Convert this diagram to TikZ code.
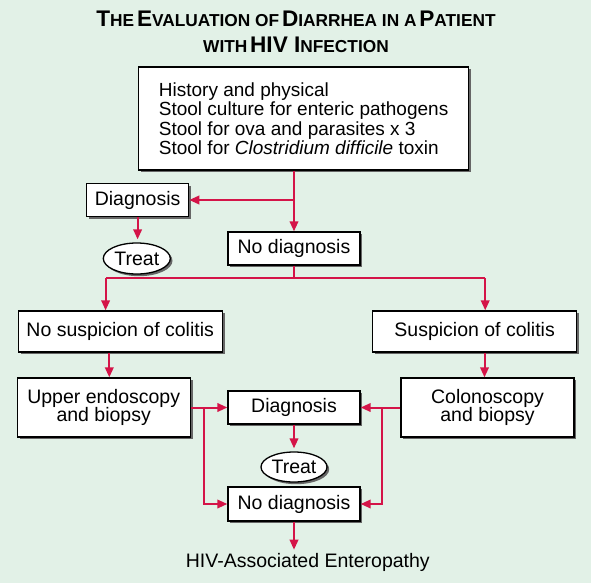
\documentclass[tikz,border=0pt]{standalone}
\usepackage{fontspec}
\setmainfont{Liberation Sans}
\usetikzlibrary{arrows.meta,shapes.geometric,shadows}
\definecolor{bgcol}{RGB}{226,241,231}
\definecolor{arrcol}{RGB}{212,20,72}
\newcommand\bigL[1]{{\fontsize{22.6}{26}\selectfont #1}}
\newcommand\smL[1]{{\fontsize{17.3}{26}\selectfont #1}}
\begin{document}
\begin{tikzpicture}[x=1pt,y=-1pt,
  boxstyle/.style={draw=black,line width=1.3pt,fill=white,inner sep=0pt,align=center,
    font=\fontsize{19.5}{18.5}\selectfont,
    drop shadow={shadow xshift=2.4pt,shadow yshift=-2.4pt,fill=black!60,opacity=1}},
  ovalstyle/.style={ellipse,draw=black,line width=1.3pt,fill=white,inner sep=0pt,
    font=\fontsize{19.5}{21}\selectfont,
    drop shadow={shadow xshift=2.2pt,shadow yshift=-2.2pt,fill=black!60,opacity=1}},
  arr/.style={draw=arrcol,line width=2pt,-{Triangle[length=10pt,width=8.5pt]}},
  ln/.style={draw=arrcol,line width=2pt}]
\fill[bgcol] (0,0) rectangle (591,583);
\useasboundingbox (0,0) rectangle (591,583);
% title
\node[anchor=base,font=\bfseries,inner sep=0pt] (t1) at (296,27)
  {\bigL{T}\smL{HE} \bigL{E}\smL{VALUATION OF} \bigL{D}\smL{IARRHEA IN A} \bigL{P}\smL{ATIENT}};
\node[anchor=base,font=\bfseries,inner sep=0pt] (t2) at (296,53)
  {\smL{WITH} \bigL{HIV I}\smL{NFECTION}};
% boxes
\node[boxstyle,minimum width=330pt,minimum height=103pt,align=left,
  font=\fontsize{19}{19.5}\selectfont] (top) at (303.6,118.5)
  {History and physical\\Stool culture for enteric pathogens\\Stool for ova and parasites x 3\\Stool for \textit{Clostridium difficile} toxin};
\node[boxstyle,minimum width=102pt,minimum height=33pt] (d1) at (137.6,200) {Diagnosis};
\node[boxstyle,minimum width=132pt,minimum height=33pt] (nd1) at (294,248.5) {No diagnosis};
\node[ovalstyle,minimum width=67pt,minimum height=31pt] (tr1) at (136.8,258.5) {Treat};
\node[boxstyle,minimum width=204pt,minimum height=41pt] (ns) at (120.2,331.5) {No suspicion of colitis};
\node[boxstyle,minimum width=204pt,minimum height=41pt] (su) at (474.6,331.5) {Suspicion of colitis};
\node[boxstyle,minimum width=173pt,minimum height=59pt] (up) at (103.7,407.5) {Upper endoscopy\\and biopsy};
\node[boxstyle,minimum width=173pt,minimum height=59pt] (co) at (487.5,407.5) {Colonoscopy\\and biopsy};
\node[boxstyle,minimum width=132pt,minimum height=33pt] (d2) at (294,407.5) {Diagnosis};
\node[ovalstyle,minimum width=66pt,minimum height=30pt] (tr2) at (294,467) {Treat};
\node[boxstyle,minimum width=132pt,minimum height=34pt] (nd2) at (294,504) {No diagnosis};
\node[font=\fontsize{19.5}{21}\selectfont,inner sep=0pt] (hiv) at (307.8,562) {HIV-Associated Enteropathy};
% helper coordinates
\coordinate (bl) at (105.6,278);
\coordinate (br) at (485.2,278);
\coordinate (c1) at (109.3,0);
\coordinate (c2) at (484.5,0);
\coordinate (jl) at (203.6,407.5);
\coordinate (jr) at (381.5,407.5);
% connectors
\draw[arr] (top.south -| nd1) -- (nd1.north);
\draw[arr] (d1.east -| nd1) -- (d1.east);
\draw[arr,shorten >=3pt] (d1.south) -- (d1.south |- tr1.north);
\draw[ln] (nd1.south) -- (nd1 |- bl) -- (bl);
\draw[ln] (nd1 |- bl) -- (br);
\draw[arr] (bl) -- (bl |- ns.north);
\draw[arr] (br) -- (br |- su.north);
\draw[arr] (ns.south -| c1) -- (up.north -| c1);
\draw[arr] (su.south -| c2) -- (co.north -| c2);
\draw[arr] (up.east) -- (d2.west);
\draw[arr] (jl) |- (nd2.west);
\draw[arr] (co.west) -- (d2.east);
\draw[arr] (jr) |- (nd2.east);
\draw[arr,shorten >=3pt] (d2.south) -- (tr2.north);
\draw[arr,shorten >=3pt] (nd2.south) -- (nd2.south |- hiv.north);
\end{tikzpicture}
\end{document}
